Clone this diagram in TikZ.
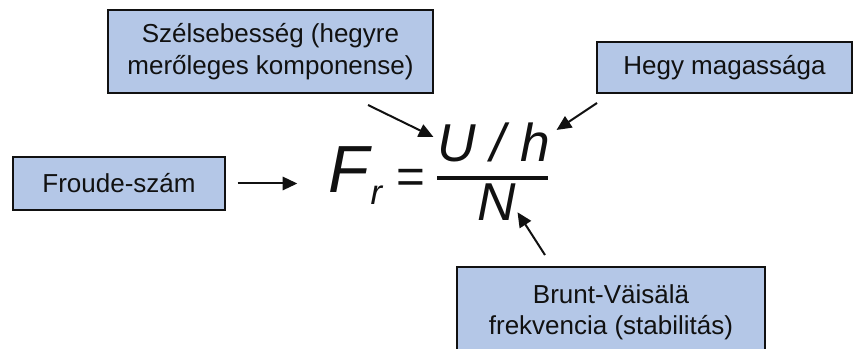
\documentclass[tikz,border=0pt]{standalone}
\usepackage{fontspec}
\setmainfont{Liberation Sans}
\usetikzlibrary{arrows.meta,positioning,calc}
\definecolor{cBox}{HTML}{B4C7E7}
\definecolor{cInk}{HTML}{111111}

\begin{document}
\begin{tikzpicture}[
  x=0.75pt,y=-0.75pt,
  box/.style={draw=cInk,line width=1.1pt,fill=cBox,align=center,inner sep=0pt,
    font=\fontsize{19.5}{23.5}\selectfont,text=cInk},
  ar/.style={-{Triangle[length=11pt,width=10pt]},line width=1.5pt,color=cInk},
  big/.style={inner sep=0pt,anchor=base,text=cInk,font=\fontsize{40}{48}\selectfont\itshape},
]
\useasboundingbox (0,0) rectangle (854,349);

% ============================================================ boxes
\node[box,minimum width=243.75pt,minimum height=62.25pt] (wind) at (270.5,51.5)
  {Szélsebesség (hegyre\\merőleges komponense)};
\node[box,minimum width=191.25pt,minimum height=38.25pt] (hill) at (724.5,67.5)
  {Hegy magassága};
\node[box,minimum width=159pt,minimum height=39.75pt] (froude) at (119,183.5)
  {Froude-szám};
\node[box,minimum width=231pt,minimum height=67.5pt] (bv) at (611,312)
  {Brunt-Väisälä\\frekvencia (stabilitás)};

% ============================================================ the formula
\node[big,anchor=base west,font=\fontsize{50}{60}\selectfont\itshape] (fr) at (328,193) {F};
\node[big,anchor=base west,font=\fontsize{26}{30}\selectfont\itshape] (frsub)
  at ($(fr.base east)+(1,12)$) {r};
\node[big,font=\fontsize{37}{44}\selectfont] (eq) at (411,194) {=};
\node[big] (num) at (494,162) {U / h};
\node[big] (den) at (497,221) {N};
\draw[line width=3pt,color=cInk] (437,178) -- (548,178);

% ============================================================ arrows
\coordinate (windfoot) at (368,105);
\coordinate (hillfoot) at (597,103);
\coordinate (bvfoot) at (545,255);
\draw[ar] (windfoot) -- ($(num.west)+(-4,-6)$);
\draw[ar] (hillfoot) -- ($(num.east)+(6,-13)$);
\draw[ar] (bvfoot) -- ($(den.south east)+(1,-9)$);
\draw[ar,shorten <=9pt,shorten >=23pt] (froude.east) -- (froude.east -| fr.west);

\end{tikzpicture}
\end{document}
